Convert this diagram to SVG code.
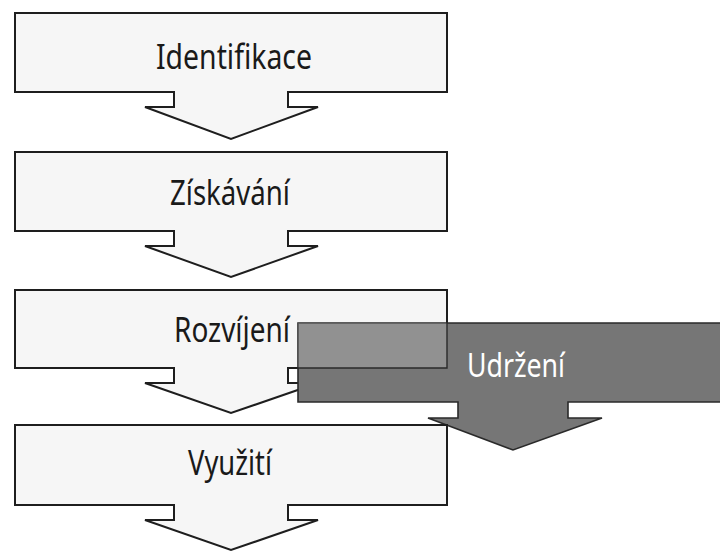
<svg xmlns="http://www.w3.org/2000/svg" width="720" height="552" viewBox="0 0 720 552">
<style>
.box{fill:#f6f6f6;stroke:#1e1e1e;stroke-width:2;stroke-linejoin:miter}
.dark{fill:#767676;stroke:#2a2a2a;stroke-width:1.6}
.lbl{font-family:"Noto Sans","Open Sans",sans-serif;font-size:34px;fill:#1a1a1a;text-anchor:middle}
.lblw{font-family:"Noto Sans","Open Sans",sans-serif;font-size:33px;fill:#ffffff;text-anchor:middle}
</style>
<rect width="720" height="552" fill="#ffffff"/>
<g id="identifikace">
<path class="box" d="M15,13 H447 V92 H288 V107 H318 L231,139 L145,107 H174 V92 H15 Z"/>
<text class="lbl" x="234" y="69" textLength="156" lengthAdjust="spacingAndGlyphs">Identifikace</text>
</g>
<g id="ziskavani">
<path class="box" d="M15,152 H447 V231 H288 V246 H318 L231,277 L145,246 H174 V231 H15 Z"/>
<text class="lbl" x="230" y="205" textLength="120" lengthAdjust="spacingAndGlyphs">Získávání</text>
</g>
<g id="rozvijeni">
<path class="box" d="M15,290 H447 V368 H288 V383 H318 L231,413 L145,383 H174 V368 H15 Z"/>
<text class="lbl" x="232" y="342" textLength="116" lengthAdjust="spacingAndGlyphs">Rozvíjení</text>
</g>
<g id="udrzeni">
<path class="dark" d="M298,323 H722 V402 H568 V418 H602 L513,450 L428,418 H458 V402 H298 Z"/>
<rect x="298" y="323" width="149" height="45" fill="#ffffff" fill-opacity="0.2"/>
<polyline points="447,323 447,368 298,368" fill="none" stroke="#2a2a2a" stroke-width="1.4"/>
<text class="lblw" x="516" y="377" textLength="98" lengthAdjust="spacingAndGlyphs">Udržení</text>
</g>
<g id="vyuziti">
<path class="box" d="M15,425 H447 V505 H288 V520 H318 L231,550 L145,520 H174 V505 H15 Z"/>
<text class="lbl" x="230" y="475" textLength="84" lengthAdjust="spacingAndGlyphs">Využití</text>
</g>
<g id="connectors"></g>
</svg>
